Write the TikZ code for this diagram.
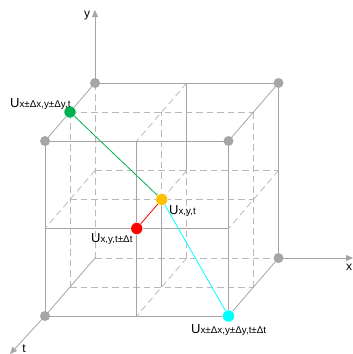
\documentclass[tikz,border=0pt]{standalone}
\usepackage{fontspec}
\setmainfont{Liberation Sans}
\usepackage{tikz}
\usetikzlibrary{positioning}
\usetikzlibrary{arrows.meta,calc}

\definecolor{edgegray}{RGB}{165,165,165}
\definecolor{dashgray}{RGB}{185,185,185}
\definecolor{dotgray}{RGB}{166,166,166}
\definecolor{ptgreen}{RGB}{0,176,80}
\definecolor{ptgold}{RGB}{255,192,0}
\definecolor{ptred}{RGB}{255,0,0}
\definecolor{ptcyan}{RGB}{0,255,255}

\newcommand{\sbs}[1]{{\fontsize{9.8}{9.8}\selectfont #1}}

\begin{document}
\begin{tikzpicture}[x=1pt,y=-1pt,
  edge/.style={draw=edgegray,line width=0.8pt},
  hidden/.style={draw=dashgray,line width=0.8pt,dash pattern=on 6.5pt off 4pt},
  axis/.style={draw=edgegray,line width=0.8pt,-{Triangle[length=7pt,width=6pt]}},
  gdot/.style={circle,fill=dotgray,inner sep=0pt,minimum size=10pt},
  cdot/.style={circle,draw=white,line width=0.4pt,inner sep=0pt,minimum size=12pt},
  lbl/.style={inner sep=0pt,anchor=base west,font=\fontsize{13}{13}\selectfont},
  axlbl/.style={inner sep=0pt,font=\fontsize{12}{12}\selectfont}]
\useasboundingbox (0,0) rectangle (353,354);

\foreach \i in {0,1,2}
  \foreach \j in {0,1,2}
    \foreach \k in {0,1,2}
      \coordinate (p\i\j\k) at (95+91.75*\i-25*\k, 258-87.5*\j+29*\k);

\coordinate (yend) at (95,10);
\coordinate (xend) at (353,258);
\coordinate (tend) at (10,354);

% back plane
\draw[edge] (p020) -- (p220);
\draw[hidden] (p010) -- (p210);
\draw[hidden] (p000) -- (p200);
\draw[hidden] (p000) -- (p020);
\draw[edge] (p110) -- (p120);
\draw[hidden] (p100) -- (p110);
\draw[edge] (p200) -- (p220);

% middle plane
\foreach \j in {0,1,2}
  \draw[hidden] (p0\j1) -- (p2\j1);
\draw[hidden] (p001) -- (p021);
\draw[hidden] (p111) -- (p121);
\draw[edge] (p101) -- (p111);
\draw[hidden] (p201) -- (p221);

% front plane
\foreach \j in {0,1,2}
  \draw[edge] (p0\j2) -- (p2\j2);
\foreach \i in {0,1,2}
  \draw[edge] (p\i02) -- (p\i22);

% depth
\draw[edge] (p020) -- (p022);
\draw[hidden] (p120) -- (p122);
\draw[edge] (p220) -- (p222);
\draw[hidden] (p010) -- (p012);
\draw[hidden] (p110) -- (p111);
\draw[hidden] (p210) -- (p212);
\draw[edge] (p000) -- (p002);
\draw[hidden] (p100) -- (p102);
\draw[edge] (p200) -- (p202);

% axes
\draw[axis] (p020) -- (yend);
\draw[axis] (p200) -- (xend);
\draw[axis] (p002) -- (tend);
\node[axlbl] (ylab) at (87,16) {y};
\node[axlbl] (xlab) at (349,267) {x};
\node[axlbl] (tlab) at (24,349) {t};

\node[gdot] (btl) at (p020) {};
\node[gdot] (btr) at (p220) {};
\node[gdot] (bbr) at (p200) {};
\node[gdot] (ftl) at (p022) {};
\node[gdot] (ftr) at (p222) {};
\node[gdot] (fbl) at (p002) {};

\node[cdot,fill=ptgreen] (G) at (p021) {};
\node[cdot,fill=ptgold] (C) at (p111) {};
\node[cdot,fill=ptred] (R) at (p112) {};
\node[cdot,fill=ptcyan] (B) at (p202) {};

\draw[ptgreen,line width=0.8pt] (G) -- (C);
\draw[ptred,line width=0.8pt] (R) -- (C);
\draw[ptcyan,line width=0.8pt] (C) -- (B);

\node[lbl] (LG) at (10,107) {U\sbs{x±Δx,y±Δy,t}};
\node[lbl] (LC) at (169,214) {U\sbs{x,y,t}};
\node[lbl] (LR) at (91,242) {U\sbs{x,y,t±Δt}};
\node[lbl] (LB) at (191,333) {U\sbs{x±Δx,y±Δy,t±Δt}};
\end{tikzpicture}
\end{document}
